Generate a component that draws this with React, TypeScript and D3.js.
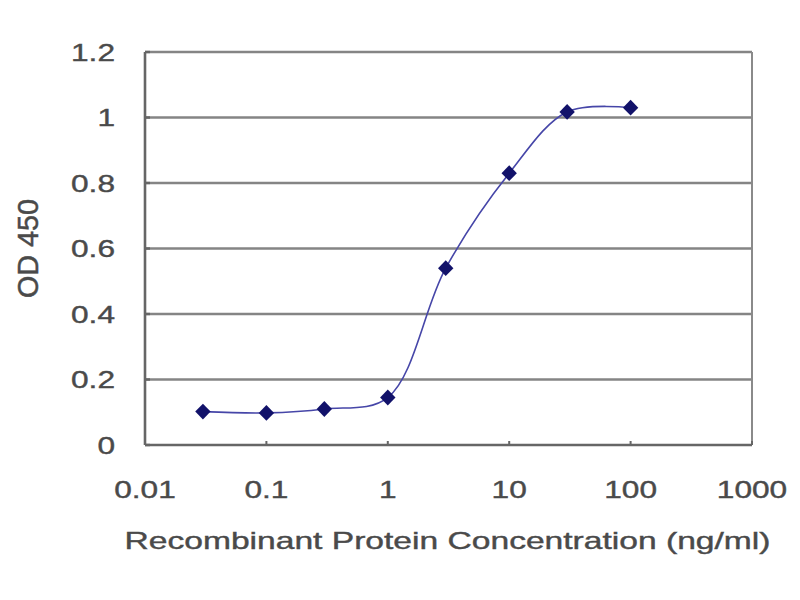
import React from "react";
import * as d3 from "d3";

const concentrations = [0.03, 0.1, 0.3, 1, 3, 10, 30, 100];
const odValues = [0.102, 0.098, 0.11, 0.145, 0.54, 0.83, 1.017, 1.03];
const xTicks = [0.01, 0.1, 1, 10, 100, 1000];
const xTickLabels = ["0.01", "0.1", "1", "10", "100", "1000"];
const yTicks = [0, 0.2, 0.4, 0.6, 0.8, 1, 1.2];
const yTickLabels = ["0", "0.2", "0.4", "0.6", "0.8", "1", "1.2"];

const width = 800;
const height = 600;
const margin = { top: 52, right: 48, bottom: 155, left: 145 };
const font = "'Liberation Sans', Arial, sans-serif";
const textColor = "#4a4a4a";
const stretch = 1.32;

export default function App() {
  const x = d3
    .scaleLog()
    .domain([0.01, 1000])
    .range([margin.left, width - margin.right]);
  const y = d3
    .scaleLinear()
    .domain([0, 1.2])
    .range([height - margin.bottom, margin.top]);

  const points = concentrations.map((c, i) => ({ c, v: odValues[i] }));

  // smoothed line like the spreadsheet's "smoothed line" option
  const line = d3
    .line<{ c: number; v: number }>()
    .x((d) => x(d.c))
    .y((d) => y(d.v))
    .curve(d3.curveCatmullRom.alpha(0.5));

  const diamond = d3.symbol(d3.symbolDiamond, 80)() as string;

  const x0 = margin.left;
  const x1 = width - margin.right;
  const y0 = height - margin.bottom;
  const y1 = margin.top;

  const textProps = {
    fontFamily: font,
    fontSize: 24,
    fill: textColor,
    stroke: textColor,
    strokeWidth: 0.4,
  };

  return (
    <svg
      width={width}
      height={height}
      style={{ position: "absolute", left: 0, top: 0, background: "#fff" }}
    >
      <rect x={0} y={0} width={width} height={height} fill="#fff" />

      {/* Grid */}
      {yTicks.slice(1).map((t) => (
        <line
          key={t}
          x1={x0}
          x2={x1}
          y1={y(t)}
          y2={y(t)}
          stroke="#858585"
          strokeWidth={2.4}
        />
      ))}
      <line x1={x1} x2={x1} y1={y1} y2={y0} stroke="#8a8a8a" strokeWidth={2} />

      {/* Axes */}
      <line x1={x0} x2={x0} y1={y1} y2={y0} stroke="#666" strokeWidth={2.6} />
      <line x1={x0} x2={x1} y1={y0} y2={y0} stroke="#666" strokeWidth={2.6} />
      {yTicks.map((t) => (
        <line key={t} x1={x0} x2={x0 + 5} y1={y(t)} y2={y(t)} stroke="#666" strokeWidth={2.4} />
      ))}
      {xTicks.map((t) => (
        <line key={t} x1={x(t)} x2={x(t)} y1={y0} y2={y0 - 4} stroke="#666" strokeWidth={2} />
      ))}

      {/* Tick labels */}
      {yTicks.map((t, i) => (
        <text
          key={t}
          transform={`translate(${x0 - 30},${y(t) + 8.5}) scale(${stretch},1)`}
          textAnchor="end"
          {...textProps}
        >
          {yTickLabels[i]}
        </text>
      ))}
      {xTicks.map((t, i) => (
        <text
          key={t}
          transform={`translate(${x(t)},${y0 + 53}) scale(${stretch},1)`}
          textAnchor="middle"
          {...textProps}
        >
          {xTickLabels[i]}
        </text>
      ))}

      {/* Axis titles */}
      <text
        transform={`translate(${(x0 + x1) / 2 - 1},${y0 + 104}) scale(1.4,1)`}
        textAnchor="middle"
        {...textProps}
      >
        Recombinant Protein Concentration (ng/ml)
      </text>
      <text
        transform={`translate(38,${(y0 + y1) / 2}) rotate(-90) scale(1.2,1.25)`}
        textAnchor="middle"
        {...textProps}
      >
        OD 450
      </text>

      {/* Series */}
      <path
        d={line(points) ?? ""}
        fill="none"
        stroke="#4646a8"
        strokeWidth={1.6}
      />
      {points.map((d) => (
        <path
          key={d.c}
          d={diamond}
          transform={`translate(${x(d.c)},${y(d.v)}) scale(1.6,0.95)`}
          fill="#12126a"
        />
      ))}
    </svg>
  );
}
